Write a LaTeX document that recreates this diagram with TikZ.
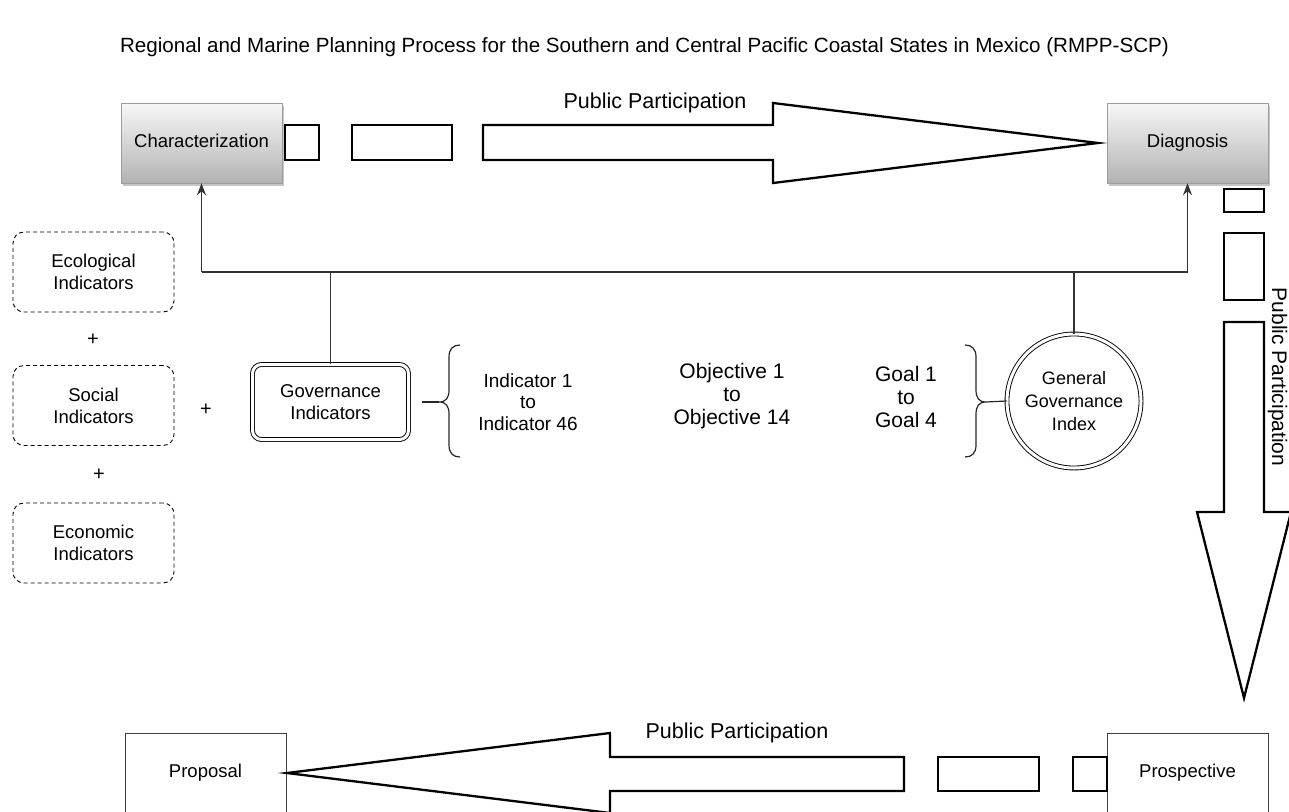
\documentclass[tikz,border=0pt]{standalone}
\usepackage{fontspec}
\setmainfont{Liberation Sans}
\usetikzlibrary{arrows.meta,shadows}
\newcommand\fsz[2]{\fontsize{#1}{#2}\selectfont}
\begin{document}
\begin{tikzpicture}[x=1pt,y=-1pt,
  gradbox/.style={draw=black!38, top color=black!3, bottom color=black!30,
    minimum width=161pt, minimum height=80pt, inner sep=0pt,
    text height=13.5pt, text depth=4pt,
    drop shadow={shadow xshift=2pt, shadow yshift=-3pt, fill=black!45, opacity=.5},
    font=\fsz{18.5}{22}},
  plainbox/.style={draw=black!75, line width=0.9pt, fill=white,
    minimum width=161pt, minimum height=80pt, inner sep=0pt,
    text height=13.5pt, text depth=4pt, font=\fsz{18.5}{22}},
  dashbox/.style={draw=black, line width=0.9pt, dash pattern=on 4pt off 3pt,
    rounded corners=11pt, minimum width=161pt, minimum height=80pt,
    inner sep=0pt, align=center, font=\fsz{18.5}{22}},
  dblbox/.style={draw=black, line width=0.9pt, double, double distance=3pt,
    rounded corners=9pt, minimum width=156pt, minimum height=75pt,
    inner sep=0pt, align=center, font=\fsz{18.5}{22}},
  dblcircle/.style={circle, draw=black, line width=0.9pt, double, double distance=3pt,
    minimum size=134pt, inner sep=0pt, align=center, font=\fsz{18}{23}},
  blockarrow/.style={draw=black, line width=2.3pt, fill=white, line join=miter},
  conn/.style={draw=black!80, line width=1.3pt},
  arr/.style={conn, -{Stealth[length=12pt,width=9pt]}},
  txt/.style={align=center, inner sep=0pt},
  bracestyle/.style={draw=black!85, line width=1.2pt},
]
\useasboundingbox (0,0) rectangle (1289,811);

% title
\node[txt, font=\fsz{20.6}{24}] (title) at (644.5,47)
  {Regional and Marine Planning Process for the Southern and Central Pacific Coastal States in Mexico (RMPP-SCP)};

% main boxes
\node[gradbox] (char) at (201.5,143) {Characterization};
\node[gradbox] (diag) at (1187.5,143) {Diagnosis};
\node[plainbox] (prosp) at (1187.5,773) {Prospective};
\node[plainbox] (prop) at (205.5,773) {Proposal};

% top block arrow
\draw[blockarrow] (285,125) rectangle (319,160);
\draw[blockarrow] (352,125) rectangle (452,160);
\draw[blockarrow] (483,125) -- (773,125) -- (773,103) -- (1098,143) -- (773,183)
  -- (773,160) -- (483,160) -- cycle;
\node[txt, font=\fsz{21.5}{25}] (pp1) at (655,103) {Public Participation};

% right block arrow
\draw[blockarrow] (1224,189) rectangle (1264,212);
\draw[blockarrow] (1224,233) rectangle (1264,300);
\draw[blockarrow] (1224,322) -- (1264,322) -- (1264,512) -- (1291,512) -- (1244,698)
  -- (1197,512) -- (1224,512) -- cycle;
\node[txt, font=\fsz{21}{25}, rotate=-90] (pp2) at (1277.5,377) {Public Participation};

% bottom block arrow
\draw[blockarrow] (1073,757) rectangle (1107,791);
\draw[blockarrow] (938,757) rectangle (1039,791);
\draw[blockarrow] (904,757) -- (610,757) -- (610,733) -- (287,773) -- (610,813)
  -- (610,791) -- (904,791) -- cycle;
\node[txt, font=\fsz{21.5}{25}] (pp3) at (737,733) {Public Participation};

% left indicator boxes
\node[dashbox] (eco) at (93.5,272) {Ecological\\Indicators};
\node[txt, font=\fsz{20}{22}] (plus1) at (93,340) {+};
\node[dashbox] (soc) at (93.5,405.5) {Social\\Indicators};
\node[txt, font=\fsz{20}{22}] (plus2) at (99,475) {+};
\node[dashbox] (econ) at (93.5,543) {Economic\\Indicators};
\node[txt, font=\fsz{20}{22}] (plus3) at (206,410) {+};

% governance
\node[dblbox] (gov) at (330.5,402) {Governance\\Indicators};
\node[dblcircle] (ggi) at (1074,401) {General\\Governance\\Index};

% texts
\node[txt, font=\fsz{19}{21.5}] (ind) at (528,402) {Indicator 1\\to\\Indicator 46};
\node[txt, font=\fsz{21}{23}] (obj) at (732,396) {Objective 1\\to\\Objective 14};
\node[txt, font=\fsz{21}{23}] (goal) at (906,397) {Goal 1\\to\\Goal 4};

% braces
\draw[bracestyle] (460,345) .. controls (453,345) and (449,349) .. (449,357) -- (449,390)
  .. controls (449,398) and (446,402) .. (439,402)
  .. controls (446,402) and (449,406) .. (449,414) -- (449,445)
  .. controls (449,453) and (453,457) .. (460,457);
\draw[bracestyle] (439,402) -- (gov.east -| 422,0);
\draw[bracestyle] (965,345) .. controls (972,345) and (976,349) .. (976,357) -- (976,390)
  .. controls (976,398) and (979,402) .. (986,402)
  .. controls (979,402) and (976,406) .. (976,414) -- (976,445)
  .. controls (976,453) and (972,457) .. (965,457);
\draw[bracestyle] (986,402) -- (ggi.west);

% connectors
\coordinate (bus) at (0,272);
\draw[conn] (char.south |- bus) -- (diag.south |- bus);
\draw[arr] (char.south |- bus) -- (char.south);
\draw[arr] (diag.south |- bus) -- (diag.south);
\draw[conn] (gov.north) -- (gov.north |- bus);
\draw[conn] (ggi.north) -- (ggi.north |- bus);
\end{tikzpicture}
\end{document}
